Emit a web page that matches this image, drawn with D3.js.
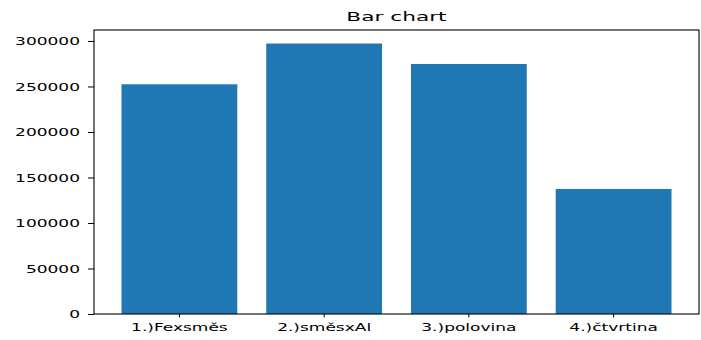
<!DOCTYPE html>
<html>
<head>
<meta charset="utf-8">
<script src="https://cdn.jsdelivr.net/npm/d3@7"></script>
<style>
  html, body { margin: 0; padding: 0; background: #fff; }
  svg { display: block; }
  text { font-family: "DejaVu Sans", sans-serif; fill: #000; }
</style>
</head>
<body>
<div id="chart"></div>
<script>
const categories = ["1.)Fexsměs", "2.)směsxAl", "3.)polovina", "4.)čtvrtina"];
const values = [252400, 297200, 274700, 137400];
const yTicks = [0, 50000, 100000, 150000, 200000, 250000, 300000];
const title = "Bar chart";

const W = 701, H = 340;
const margin = { left: 94, right: 2, top: 30, bottom: 26 };
const SX = 1.62;  // horizontal stretch of tick text
const SXT = 1.72; // horizontal stretch of title

const svg = d3.select("#chart").append("svg").attr("width", W).attr("height", H);

const x = d3.scaleBand()
  .domain(categories)
  .range([margin.left, W - margin.right])
  .paddingInner(0.2)
  .paddingOuter(0.19);

const y = d3.scaleLinear()
  .domain([0, d3.max(values) * 1.05])
  .range([H - margin.bottom, margin.top]);

// bars
svg.append("g").selectAll("rect")
  .data(values)
  .join("rect")
  .attr("x", (d, i) => x(categories[i]))
  .attr("width", x.bandwidth())
  .attr("y", d => y(d))
  .attr("height", d => y(0) - y(d))
  .attr("fill", "#1f77b4");

// y axis
const gy = svg.append("g")
  .attr("transform", `translate(${margin.left},0)`)
  .call(d3.axisLeft(y).tickValues(yTicks).tickFormat(d3.format("d")).tickSize(6).tickSizeOuter(0));
gy.select(".domain").remove();
gy.selectAll(".tick line").attr("stroke", "#000").attr("stroke-width", 1);
gy.selectAll(".tick text")
  .attr("x", null).attr("dy", null)
  .attr("y", 3.8)
  .attr("font-size", "10.5px")
  .attr("font-family", "DejaVu Sans, sans-serif")
  .attr("fill", "#000")
  .attr("text-anchor", "end")
  .attr("transform", `translate(-14,0) scale(${SX},1)`);

// x axis
const gx = svg.append("g")
  .attr("transform", `translate(0,${H - margin.bottom})`)
  .call(d3.axisBottom(x).tickSize(3.5).tickSizeOuter(0));
gx.select(".domain").remove();
gx.selectAll(".tick line").attr("stroke", "#000").attr("stroke-width", 1);
gx.selectAll(".tick text")
  .attr("y", null).attr("dy", null)
  .attr("font-size", "10.5px")
  .attr("font-family", "DejaVu Sans, sans-serif")
  .attr("fill", "#000")
  .attr("text-anchor", "middle")
  .attr("transform", `translate(0,17) scale(${SX},1)`);

// frame
svg.append("rect")
  .attr("x", margin.left)
  .attr("y", margin.top)
  .attr("width", W - margin.right - margin.left)
  .attr("height", H - margin.bottom - margin.top)
  .attr("fill", "none")
  .attr("stroke", "#000")
  .attr("stroke-width", 1.1);

// title
svg.append("text")
  .attr("text-anchor", "middle")
  .attr("font-size", "12.6px")
  .attr("transform", `translate(${(margin.left + W - margin.right) / 2},20.5) scale(${SXT},1)`)
  .text(title);
</script>
</body>
</html>
